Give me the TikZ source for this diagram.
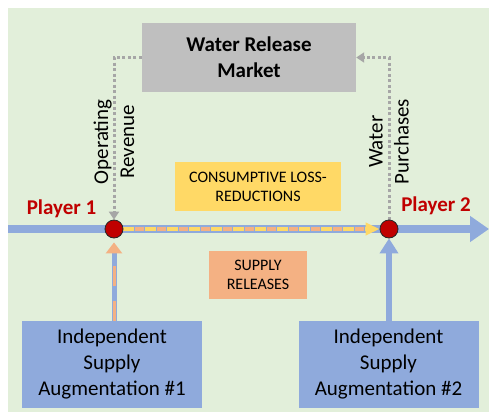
\documentclass[tikz,border=0pt]{standalone}
\usepackage{fontspec}
\setmainfont{Carlito}
\usepackage{tikz}
\usetikzlibrary{positioning, arrows.meta}

\definecolor{bggreen}{HTML}{E2EFDA}
\definecolor{mktgray}{HTML}{BFBFBF}
\definecolor{dotgray}{HTML}{A6A6A6}
\definecolor{riverblue}{HTML}{8FAADC}
\definecolor{lossyellow}{HTML}{FFD966}
\definecolor{supplyorange}{HTML}{F4B183}
\definecolor{playerred}{HTML}{C00000}

\pgfdeclarelayer{background}
\pgfsetlayers{background,main}

\def\big{\fontsize{21}{26}\selectfont}
\tikzstyle{market} = [rectangle, minimum width=214pt, minimum height=69pt, text centered, align=center, fill=mktgray, font=\big\bfseries]
\tikzstyle{augment} = [rectangle, minimum width=180pt, minimum height=87pt, text centered, align=center, fill=riverblue]
\tikzstyle{player} = [circle, minimum size=18pt, inner sep=0pt, draw=black!85, line width=0.8pt, fill=playerred]
\tikzstyle{pname} = [text=playerred, font=\big\bfseries, anchor=base]
\tikzstyle{tag} = [rectangle, text centered, align=center, font=\fontsize{16}{19}\selectfont]
\tikzstyle{money} = [dotgray, line width=3pt, dash pattern=on 3pt off 2.5pt]
\tikzstyle{moneylabel} = [rotate=90, align=center, text=black]
\tikzstyle{river} = [riverblue, line width=8pt]
\def\gap{12pt}

\begin{document}
\begin{tikzpicture}[x=1pt, y=-1pt, font=\big]
\useasboundingbox (0,0) rectangle (489,415);

\node (market) [market] at (249,57.5) {Water Release\\Market};
\node (p1) [player] at (114,229) {};
\node (p2) [player] at (389,229) {};
\node (name1) [pname] at (61.5,214) {Player 1};
\node (name2) [pname] at (436,211) {Player 2};

\node (loss) [tag, fill=lossyellow, minimum width=166pt, minimum height=49pt] at (258,186.5) {CONSUMPTIVE LOSS-\\REDUCTIONS};
\node (release) [tag, fill=supplyorange, minimum width=98pt, minimum height=48pt] at (258,275) {SUPPLY\\RELEASES};

\node (aug1) [augment] at (112,364.5) {Independent\\Supply\\Augmentation \#1};
\node (aug2) [augment] at (388.5,364.5) {Independent\\Supply\\Augmentation \#2};

\coordinate (upstream) at (8,229);
\coordinate (downstream) at (489,229);

\begin{pgfonlayer}{background}
\fill [bggreen] (8,8) rectangle (489,412);

% river
\draw [river] (upstream) -- (p1.west);
\draw [river] (p1.east) -- (p2.west);
\draw [river, -{Triangle[length=19pt, width=25pt]}] (p2.east) -- (downstream);
\draw [supplyorange, line width=4pt, dash pattern=on 9pt off 13pt, dash phase=10pt, shorten >=\gap] (p1.east) -- (p2.west);
\draw [lossyellow, line width=4pt, dash pattern=on 11pt off 11pt, -{Triangle[length=14pt, width=12pt]}] (p1.east) -- (p2.west);

% augmentation
\draw [riverblue, line width=5pt, shorten >=8pt] (aug1.north -| p1) -- (p1.south);
\draw [supplyorange, line width=3pt, dash pattern=on 20pt off 15pt, shorten >=4pt, -{Triangle[length=11pt, width=16pt]}] (aug1.north -| p1) -- (p1.south);
\draw [riverblue, line width=6pt, -{Triangle[length=15pt, width=18pt]}] (aug2.north -| p2) -- (p2.south);

% market
\draw [money, -{Triangle[length=8pt, width=10pt]}] (market.west) -| node[moneylabel, pos=0.76] {Operating\\Revenue} (p1.north);
\draw [money, -{Triangle[length=8pt, width=10pt]}] (p2.north) |- node[moneylabel, pos=0.24] {Water\\Purchases} (market.east);
\end{pgfonlayer}

\end{tikzpicture}
\end{document}
